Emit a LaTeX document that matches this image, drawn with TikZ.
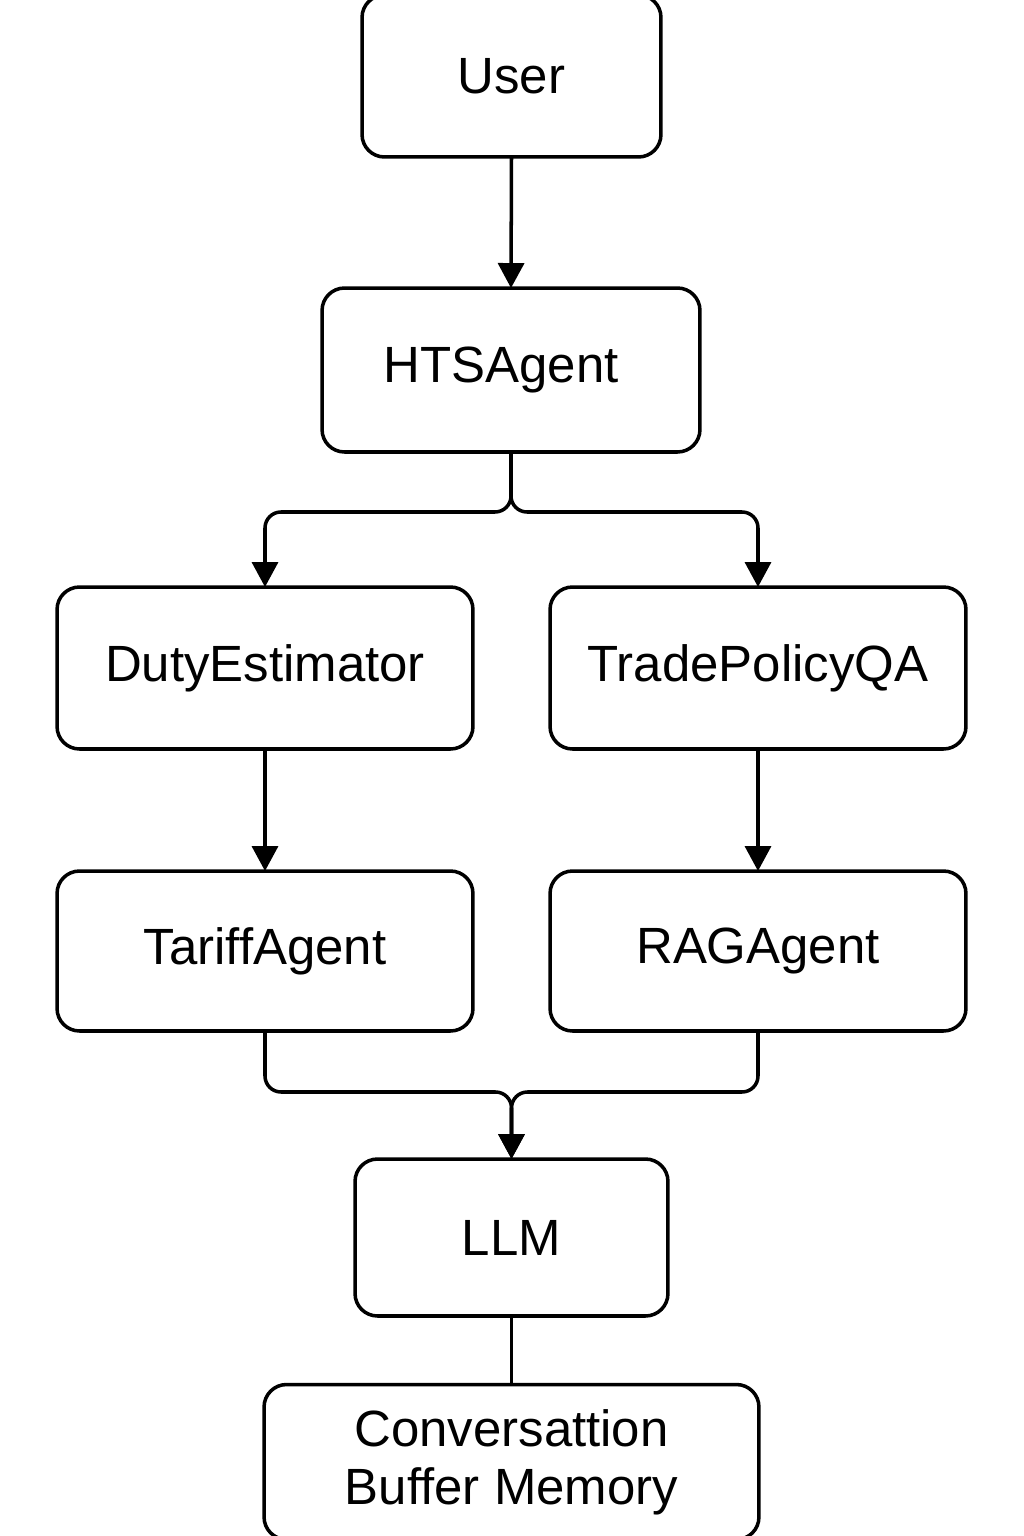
\documentclass[tikz,border=0pt]{standalone}
\usepackage{fontspec}
\setmainfont{Liberation Sans}
\usetikzlibrary{arrows.meta}
\begin{document}
\begin{tikzpicture}[x=0.02cm,y=-0.02cm,
  box/.style={draw=black,line width=2pt,rounded corners=0.45cm,fill=white,
    inner sep=0pt,outer sep=0pt,align=center,font=\fontsize{29}{34}\selectfont},
  conn/.style={draw=black,line width=2pt,rounded corners=0.32cm},
  arr/.style={conn,-{Triangle[width=0.52cm,length=0.5cm]}}]
\useasboundingbox[fill=white] (0,0) rectangle (1024,1536);
\node[box,minimum width=5.98cm,minimum height=3.24cm] (user) at (511.5,76) {User};
\node[box,minimum width=7.56cm,minimum height=3.28cm] (hts) at (511,370) {HTSAgent\hspace*{0.4cm}};
\node[box,minimum width=8.32cm,minimum height=3.24cm] (duty) at (265,668) {DutyEstimator};
\node[box,minimum width=8.32cm,minimum height=3.24cm] (trade) at (758,668) {TradePolicyQA};
\node[box,minimum width=8.32cm,minimum height=3.2cm] (tariff) at (265,951) {TariffAgent};
\node[box,minimum width=8.32cm,minimum height=3.2cm] (rag) at (758,951) {RAGAgent};
\node[box,minimum width=6.26cm,minimum height=3.14cm] (llm) at (511.5,1237.5) {LLM};
\node[box,minimum width=9.9cm,minimum height=3.1cm,font=\fontsize{29}{33}\selectfont] (conv) at (511.5,1462) {Conversattion\\Buffer Memory};
\draw[arr] (user.south) -- (hts.north);
\draw[arr] (hts.south) -- ++(0,60) -| (duty.north);
\draw[arr] (hts.south) -- ++(0,60) -| (trade.north);
\draw[arr] (duty.south) -- (tariff.north);
\draw[arr] (trade.south) -- (rag.north);
\draw[arr] (tariff.south) -- ++(0,61) -| (llm.north);
\draw[arr] (rag.south) -- ++(0,61) -| (llm.north);
\draw[conn] (llm.south) -- (conv.north);
\end{tikzpicture}
\end{document}
